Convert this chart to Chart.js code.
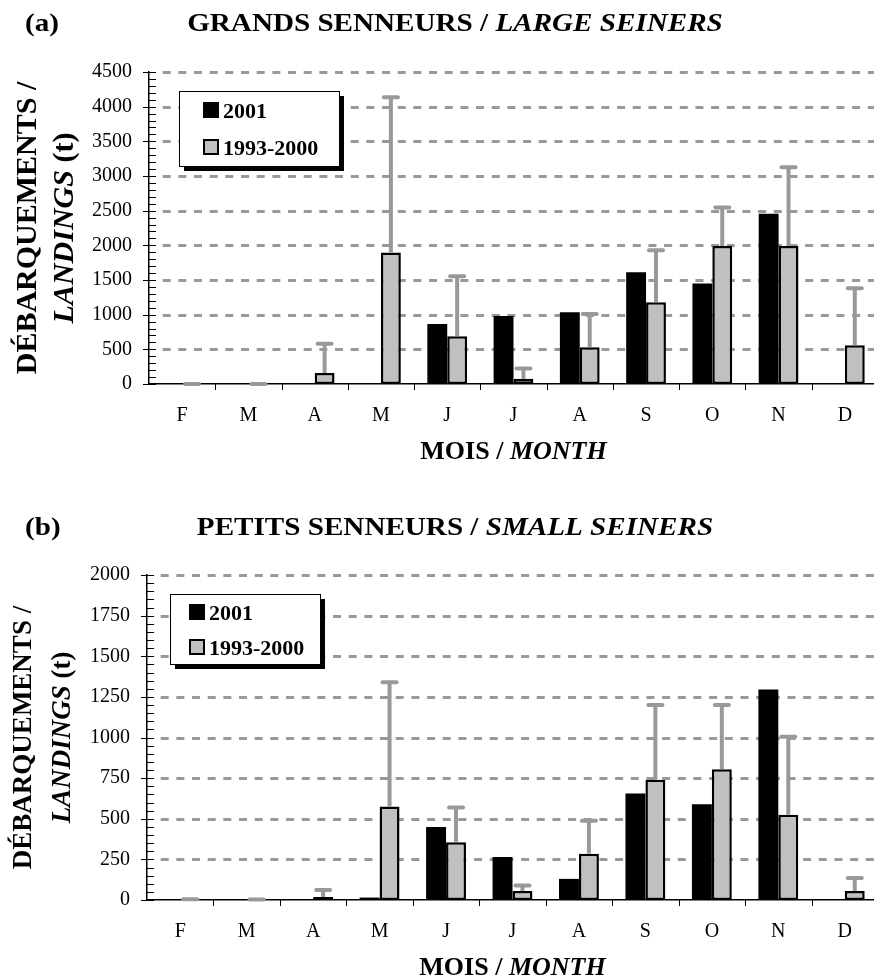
<!DOCTYPE html>
<html>
<head>
<meta charset="utf-8">
<title>Débarquements mensuels / Monthly landings</title>
<script src="https://cdn.jsdelivr.net/npm/chart.js@4.4.1/dist/chart.umd.min.js"></script>
<style>
  html, body { margin: 0; padding: 0; background: #fff; overflow: hidden; }
  canvas { display: block; }
</style>
</head>
<body>
<canvas id="largeChart" width="880" height="490"></canvas>
<canvas id="smallChart" width="880" height="490"></canvas>
<script>
// Months, February to December
const months = ['F', 'M', 'A', 'M', 'J', 'J', 'A', 'S', 'O', 'N', 'D'];
const seriesNames = ['2001', '1993-2000'];

// (a) Large seiners - landings (t)
const large2001 = [0, 0, 0, 0, 865, 980, 1035, 1610, 1450, 2455, 0];
const largeMean = [0, 0, 160, 1895, 690, 75, 530, 1180, 1990, 1990, 560];
const largeHigh = [0, 0, 580, 4135, 1555, 225, 1010, 1930, 2545, 3125, 1380]; // top of error bar
const largeMax = 4500;
const largeStep = 500;

// (b) Small seiners - landings (t)
const small2001 = [0, 0, 0, 15, 450, 265, 130, 655, 590, 1295, 0];
const smallMean = [0, 0, 18, 575, 355, 55, 285, 740, 805, 525, 55];
const smallHigh = [5, 3, 62, 1340, 570, 90, 488, 1200, 1200, 1005, 135];
const smallMax = 2000;
const smallStep = 250;

const SERIF = '"Liberation Serif", "Times New Roman", serif';
const GRID_GREY = '#999999';
const ERR_GREY = '#999999';
const BAR_GREY = '#c0c0c0';

// draw a row of text pieces with different fonts
function drawRuns(ctx, runs, x, y, align, stretch) {
    ctx.save();
    ctx.translate(x, y);
    ctx.scale(stretch || 1, 1);
    ctx.textAlign = 'left';
    let total = 0;
    runs.forEach(r => { ctx.font = r[1]; total += ctx.measureText(r[0]).width; });
    let cx = align === 'center' ? -total / 2 : 0;
    runs.forEach(r => {
        ctx.font = r[1];
        ctx.fillText(r[0], cx, 0);
        cx += ctx.measureText(r[0]).width;
    });
    ctx.restore();
}

const figurePlugin = {
    id: 'figure',
    beforeDatasetsDraw(chart) {
        const {ctx, chartArea: area, scales: {x, y}} = chart;
        ctx.save();

        // dashed horizontal gridlines
        ctx.strokeStyle = GRID_GREY;
        ctx.lineWidth = 3;
        ctx.setLineDash([8, 7.67]);
        ctx.lineDashOffset = 8;
        y.ticks.forEach(t => {
            if (t.value === 0) return;
            const py = Math.round(y.getPixelForValue(t.value)) + 0.5;
            ctx.beginPath();
            ctx.moveTo(area.left + 6, py);
            ctx.lineTo(area.right, py);
            ctx.stroke();
        });
        ctx.setLineDash([]);

        // y tick marks, major and minor
        ctx.strokeStyle = '#000';
        ctx.lineWidth = 1;
        const step = y.options.ticks.stepSize;
        for (let v = y.min; v <= y.max + 0.001; v += step / 5) {
            const py = Math.round(y.getPixelForValue(v)) + 0.5;
            const major = Math.abs(v / step - Math.round(v / step)) < 0.001;
            ctx.beginPath();
            ctx.moveTo(area.left - (major ? 6 : 0), py);
            ctx.lineTo(area.left + 7, py);
            ctx.stroke();
        }

        // x tick marks between categories
        const n = chart.data.labels.length;
        for (let i = 1; i < n; i++) {
            const px = Math.round((x.getPixelForValue(i - 1) + x.getPixelForValue(i)) / 2) + 0.5;
            ctx.beginPath();
            ctx.moveTo(px, area.bottom);
            ctx.lineTo(px, area.bottom + 6);
            ctx.stroke();
        }
        ctx.restore();
    },
    afterDatasetsDraw(chart, args, opts) {
        const {ctx, chartArea: area, scales: {y}} = chart;
        ctx.save();

        // error bars on the 1993-2000 series
        const meta = chart.getDatasetMeta(1);
        ctx.strokeStyle = ERR_GREY;
        ctx.lineWidth = 4;
        meta.data.forEach((bar, i) => {
            const top = y.getPixelForValue(opts.highs[i]);
            ctx.lineCap = 'butt';
            ctx.beginPath();
            ctx.moveTo(bar.x, bar.y);
            ctx.lineTo(bar.x, top);
            ctx.stroke();
            ctx.lineCap = 'round';
            ctx.beginPath();
            ctx.moveTo(bar.x - 7, top);
            ctx.lineTo(bar.x + 7, top);
            ctx.stroke();
        });
        ctx.lineCap = 'butt';

        // legend box with shadow
        const b = opts.legendBox;
        ctx.fillStyle = '#000';
        ctx.fillRect(b.x + 5, b.y + 5, b.w, b.h);
        ctx.fillStyle = '#fff';
        ctx.fillRect(b.x, b.y, b.w, b.h);
        ctx.strokeStyle = '#000';
        ctx.lineWidth = 1;
        ctx.strokeRect(b.x + 0.5, b.y + 0.5, b.w, b.h);
        ctx.font = 'bold 22px ' + SERIF;
        ctx.textBaseline = 'alphabetic';
        chart.data.datasets.forEach((ds, i) => {
            const sx = b.x + b.padLeft;
            const sy = b.y + b.padTop + i * b.gap;
            ctx.fillStyle = ds.backgroundColor;
            ctx.fillRect(sx, sy, 16, 16);
            if (ds.borderWidth) {
                ctx.lineWidth = 2;
                ctx.strokeStyle = '#000';
                ctx.strokeRect(sx + 1, sy + 1, 14, 14);
            }
            ctx.fillStyle = '#000';
            ctx.fillText(ds.label, b.x + b.textLeft, sy + 16);
        });

        // panel tag and title
        ctx.fillStyle = '#000';
        ctx.textBaseline = 'alphabetic';
        const tf = 'bold 26px ' + SERIF;
        const tfi = 'italic bold 26px ' + SERIF;
        drawRuns(ctx, [[opts.tag, tf]], 25, opts.titleBase, 'left', 1.12);
        drawRuns(ctx, [[opts.title[0], tf], [opts.title[1], tfi]], 455, opts.titleBase, 'center', 1.12);

        // x axis title
        const cx = (area.left + area.right) / 2;
        drawRuns(ctx, [['MOIS / ', 'bold 26px ' + SERIF], ['MONTH', 'italic bold 26px ' + SERIF]],
            cx, area.bottom + 75, 'center', 1);

        // y axis title, two rotated lines
        const cy = (area.top + area.bottom) / 2;
        const fs = opts.yTitleSize;
        ctx.textBaseline = 'middle';
        ctx.save();
        ctx.translate(opts.yTitleX[0], cy);
        ctx.rotate(-Math.PI / 2);
        drawRuns(ctx, [['DÉBARQUEMENTS /', 'bold ' + fs + 'px ' + SERIF]], 0, 0, 'center', 1);
        ctx.restore();
        ctx.save();
        ctx.translate(opts.yTitleX[1], cy);
        ctx.rotate(-Math.PI / 2);
        drawRuns(ctx, [['LANDINGS', 'italic bold ' + fs + 'px ' + SERIF], [' (t)', 'bold ' + fs + 'px ' + SERIF]], 0, 0, 'center', 1);
        ctx.restore();

        ctx.restore();
    }
};

function makeChart(id, black, grey, highs, yMax, yStep, frame, figure) {
    const ctx = document.getElementById(id);
    return new Chart(ctx, {
        type: 'bar',
        data: {
            labels: months,
            datasets: [{
                label: seriesNames[0],
                data: black,
                backgroundColor: '#000000',
                borderWidth: 0,
                categoryPercentage: 0.6,
                barPercentage: 1.0
            }, {
                label: seriesNames[1],
                data: grey,
                backgroundColor: BAR_GREY,
                borderColor: '#000000',
                borderWidth: 2.5,
                borderSkipped: false,
                categoryPercentage: 0.6,
                barPercentage: 1.0
            }]
        },
        options: {
            responsive: false,
            animation: false,
            layout: {
                padding: {top: frame.top, right: 2, bottom: 0, left: 0}
            },
            plugins: {
                legend: {display: false},
                title: {display: false},
                tooltip: {enabled: false},
                figure: Object.assign({highs: highs}, figure)
            },
            scales: {
                x: {
                    grid: {display: false, drawTicks: false},
                    border: {display: true, color: '#000', width: 1.5},
                    ticks: {
                        color: '#000',
                        padding: 20,
                        font: {family: SERIF, size: 20}
                    },
                    afterFit: s => { s.height = frame.xHeight; }
                },
                y: {
                    min: 0,
                    max: yMax,
                    grid: {display: false, drawTicks: false},
                    border: {display: true, color: '#000', width: 1.5},
                    ticks: {
                        stepSize: yStep,
                        color: '#000',
                        padding: 17,
                        font: {family: SERIF, size: 20},
                        callback: v => String(v)
                    },
                    afterFit: s => { s.width = frame.yWidth; }
                }
            }
        },
        plugins: [figurePlugin]
    });
}

makeChart('largeChart', large2001, largeMean, largeHigh, largeMax, largeStep,
    {top: 72, xHeight: 106, yWidth: 149},
    {
        tag: '(a)',
        title: ['GRANDS SENNEURS / ', 'LARGE SEINERS'],
        titleBase: 31,
        yTitleSize: 30,
        yTitleX: [28, 65],
        legendBox: {x: 179, y: 91, w: 160, h: 75, padLeft: 24, padTop: 11, gap: 37, textLeft: 44}
    });

makeChart('smallChart', small2001, smallMean, smallHigh, smallMax, smallStep,
    {top: 85, xHeight: 80, yWidth: 147},
    {
        tag: '(b)',
        title: ['PETITS SENNEURS / ', 'SMALL SEINERS'],
        titleBase: 45,
        yTitleSize: 27,
        yTitleX: [24, 63],
        legendBox: {x: 170, y: 104, w: 150, h: 70, padLeft: 19, padTop: 10, gap: 35, textLeft: 39}
    });
</script>
</body>
</html>
